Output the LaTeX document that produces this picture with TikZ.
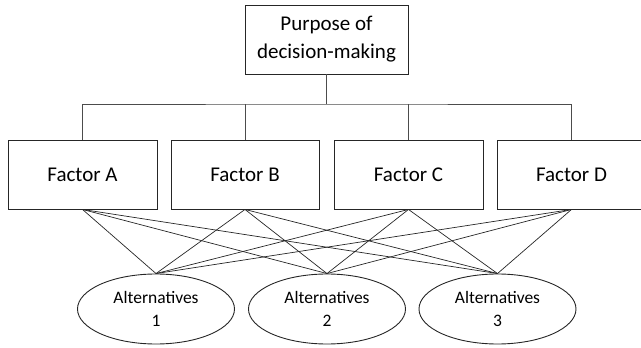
\documentclass[tikz,border=0pt]{standalone}
\usepackage{fontspec}
\setmainfont{Carlito}
\usetikzlibrary{shapes.geometric}
\begin{document}
\begin{tikzpicture}[x=1pt,y=-1pt,
  box/.style={draw=black!85,line width=0.9pt,rectangle,inner sep=0pt,
    font=\fontsize{21}{28}\selectfont,align=center},
  alt/.style={draw=black!85,line width=0.9pt,ellipse,inner sep=0pt,
    minimum width=157pt,minimum height=70pt,
    font=\fontsize{17.5}{23}\selectfont,align=center},
  tree/.style={draw=black!70,line width=0.9pt},
  link/.style={draw=black!85,line width=0.7pt}]
\path[use as bounding box] (0,0) rectangle (641,348);
\clip (0,0) rectangle (641,348);
\node[box,minimum width=163pt,minimum height=69pt] (top) at (326.5,39.5) {Purpose of\\decision-making};
\node[box,minimum width=149pt,minimum height=68.5pt] (A) at (82.5,174.75) {Factor A};
\node[box,minimum width=148pt,minimum height=68.5pt] (B) at (245,174.75) {Factor B};
\node[box,minimum width=149pt,minimum height=68.5pt] (C) at (408.5,174.75) {Factor C};
\node[box,minimum width=149pt,minimum height=68.5pt] (D) at (571.5,174.75) {Factor D};
\node[alt] (E1) at (156,309) {Alternatives\\1};
\node[alt] (E2) at (327,309) {Alternatives\\2};
\node[alt] (E3) at (497.5,309) {Alternatives\\3};
\coordinate (bus) at (326.5,104);
\draw[tree] (top.south) -- (bus);
\draw[tree] (A.north) |- (bus) -| (D.north);
\draw[tree] (B.north) -- (B.north |- bus);
\draw[tree] (C.north) -- (C.north |- bus);
\foreach \f in {A,B,C,D}{
  \foreach \e in {E1,E2,E3}{
    \draw[link] (\f.south) -- (\e.north);
  }
}
\end{tikzpicture}
\end{document}
